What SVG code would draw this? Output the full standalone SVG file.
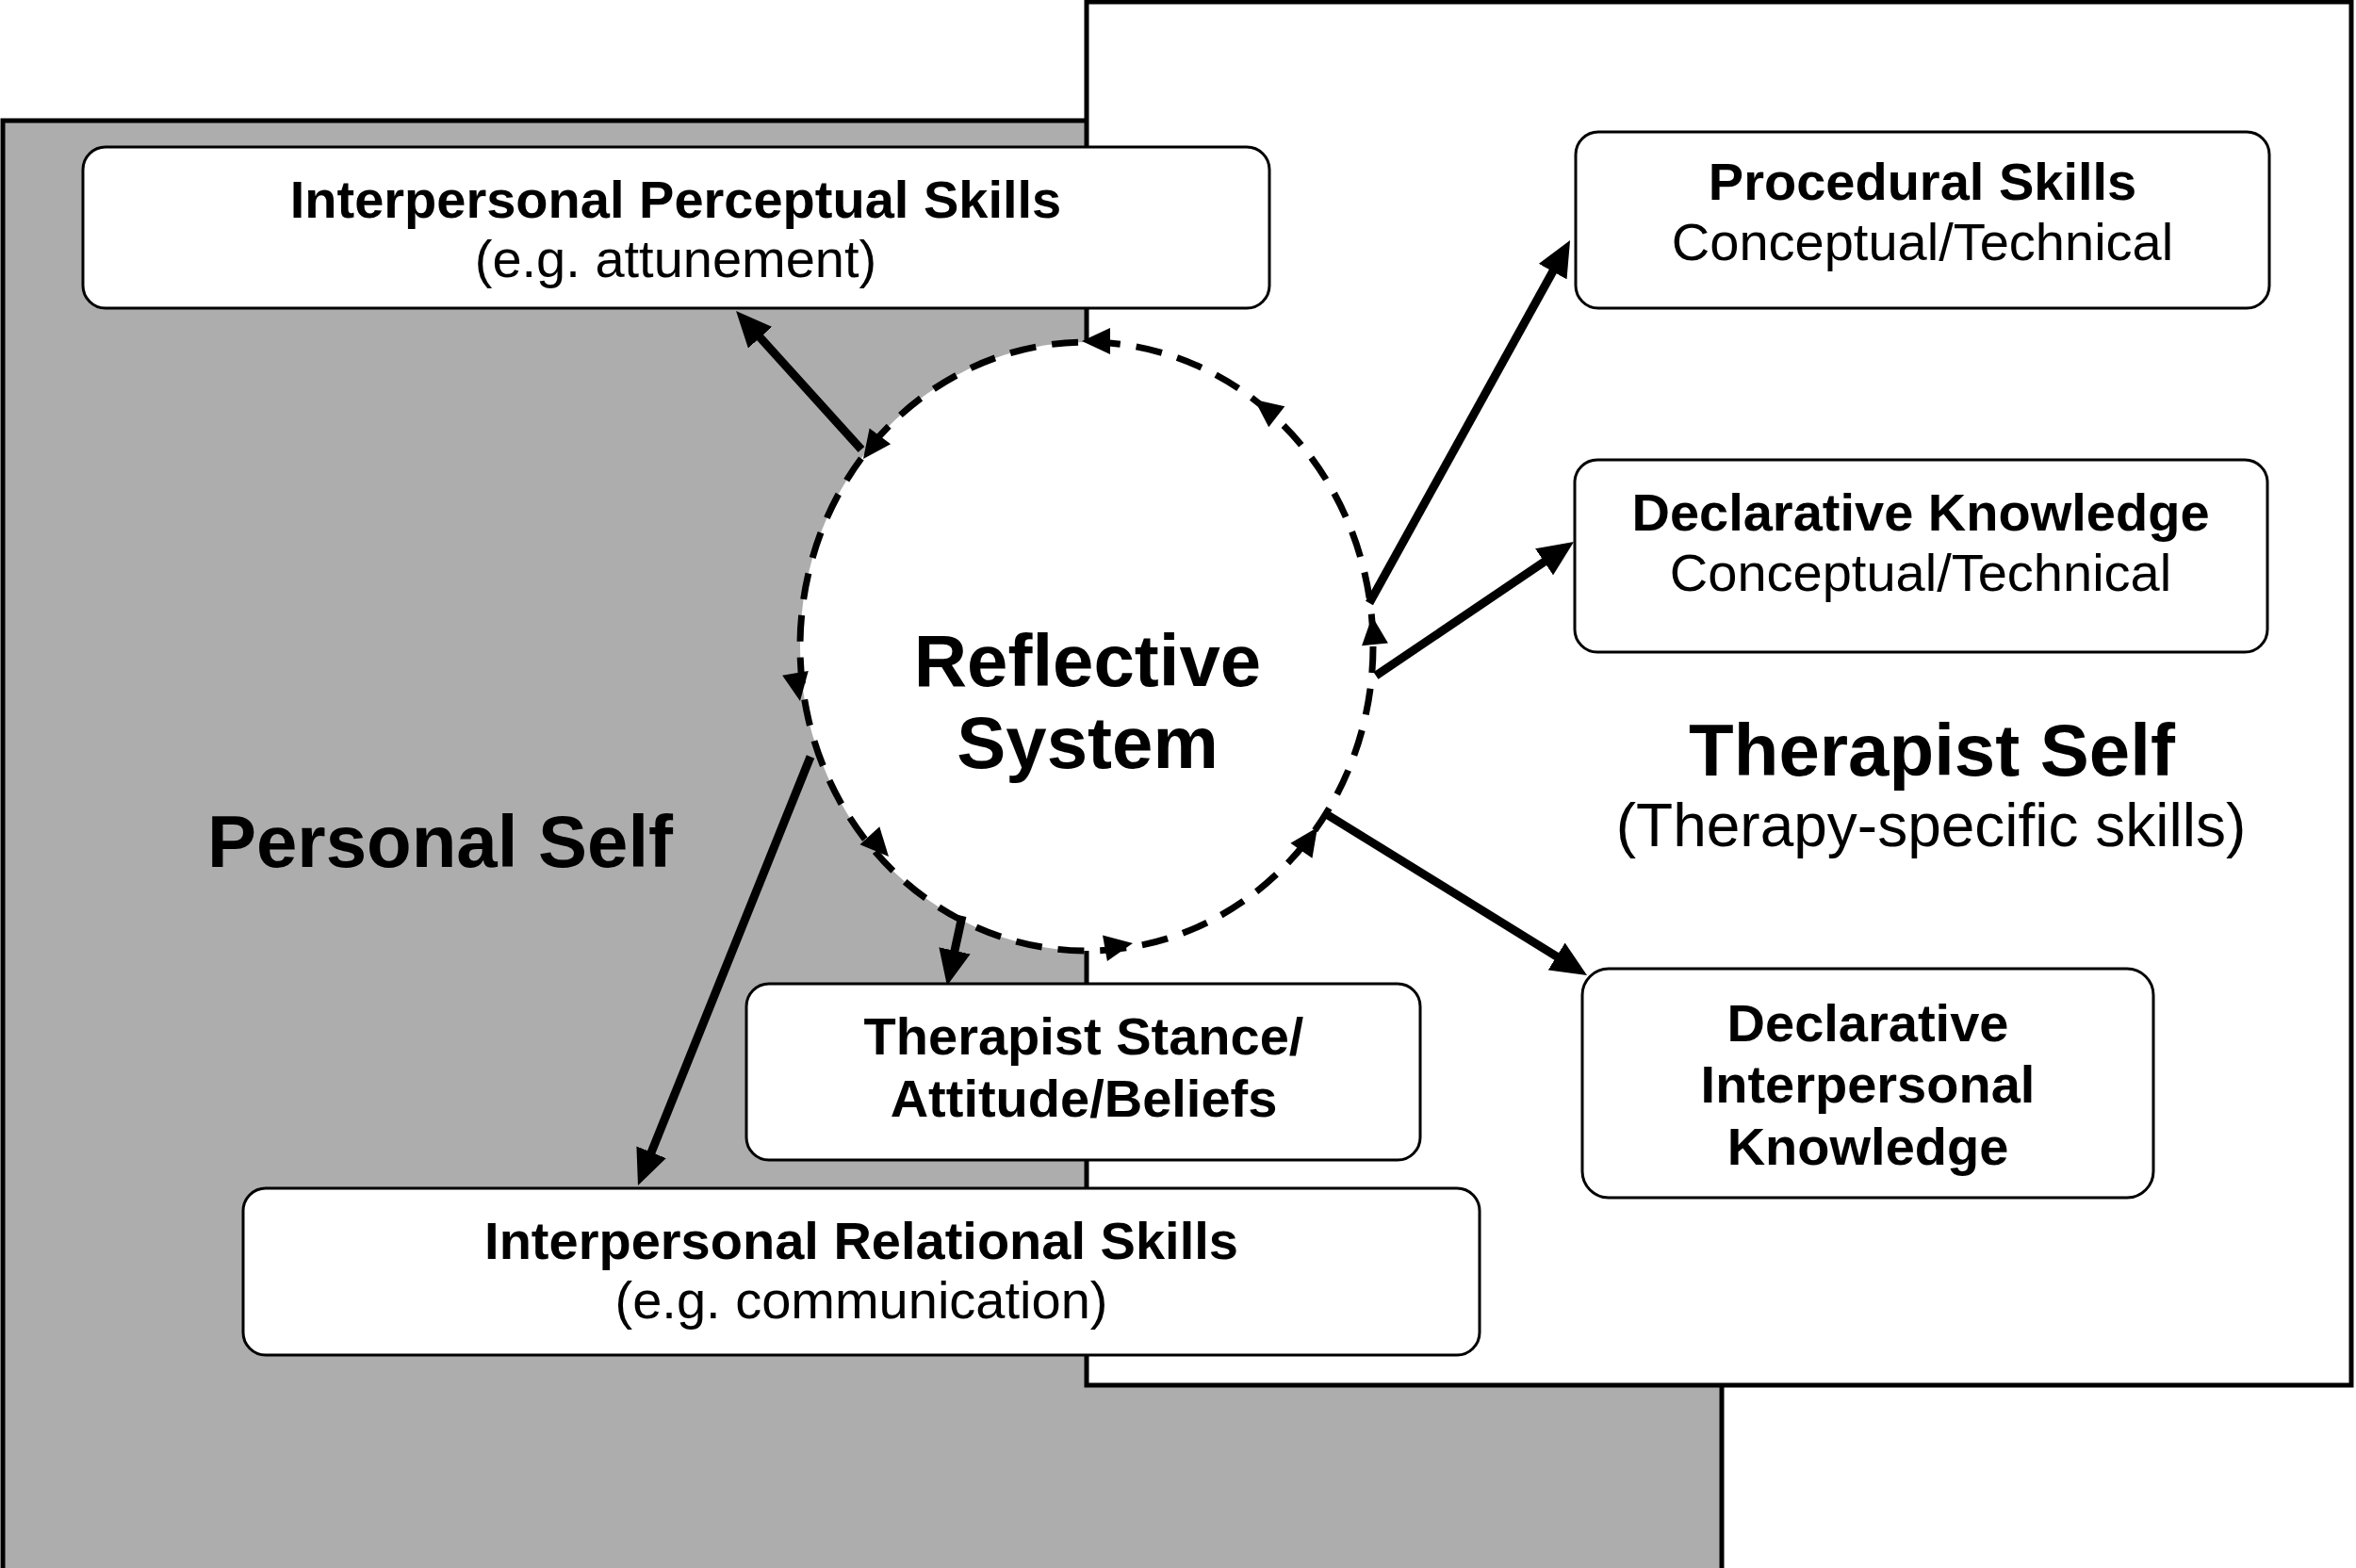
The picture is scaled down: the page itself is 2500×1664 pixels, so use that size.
<svg xmlns="http://www.w3.org/2000/svg" width="2500" height="1664" viewBox="0 0 2500 1664">
<defs>
<style>
.box{fill:#fff;stroke:#000;stroke-width:3}
.t{font-family:"Liberation Sans",Arial,sans-serif;font-size:56px;text-anchor:middle;fill:#000}
.b{font-weight:bold}
.big{font-family:"Liberation Sans",Arial,sans-serif;font-weight:bold;font-size:78px;text-anchor:middle;fill:#000}
.conn{stroke:#000;stroke-width:9;fill:none;marker-end:url(#ah)}
.ch{fill:#000}
</style>
<marker id="ah" markerUnits="userSpaceOnUse" viewBox="0 0 38 34" refX="16" refY="17" markerWidth="38" markerHeight="34" orient="auto"><path d="M0,0 L38,17 L0,34 z"/></marker>
</defs>
<rect width="2500" height="1664" fill="#fff"/>
<g id="personal-self">
<rect x="3" y="128" width="1824" height="1540" fill="#adadad" stroke="#000" stroke-width="5"/>
</g>
<g id="therapist-self">
<rect x="1153" y="2" width="1342" height="1468" fill="#fff" stroke="#000" stroke-width="5"/>
</g>
<g id="reflective-system">
<ellipse cx="1153" cy="686" rx="304" ry="323" fill="#fff" stroke="#000" stroke-width="7" stroke-dasharray="28 17"/>
<polygon class="ch" points="0,0 -30,-14 -30,14" transform="translate(1148,362) rotate(180)"/>
<polygon class="ch" points="0,0 -30,-14 -30,14" transform="translate(1331,424) rotate(-142.5)"/>
<polygon class="ch" points="0,0 -30,-14 -30,14" transform="translate(916,487) rotate(126.6)"/>
<polygon class="ch" points="0,0 -30,-14 -30,14" transform="translate(849,744) rotate(80.3)"/>
<polygon class="ch" points="0,0 -30,-14 -30,14" transform="translate(943,909) rotate(47.9)"/>
<polygon class="ch" points="0,0 -30,-14 -30,14" transform="translate(1202,1001) rotate(-10)"/>
<polygon class="ch" points="0,0 -30,-14 -30,14" transform="translate(1398,878) rotate(-55.3)"/>
<polygon class="ch" points="0,0 -30,-14 -30,14" transform="translate(1456,654) rotate(-95.7)"/>
<text class="big" x="1154" y="728">Reflective</text>
<text class="big" x="1154" y="815">System</text>
</g>
<g id="label-personal"><text class="big" x="467" y="920">Personal Self</text></g>
<g id="label-therapist">
<text class="big" x="2050" y="823">Therapist Self</text>
<text class="t" style="font-size:64px" x="2049" y="898">(Therapy-specific skills)</text>
</g>
<g id="connectors">
<line class="conn" x1="914" y1="477" x2="795.8" y2="346.3"/>
<line class="conn" x1="1453" y1="640" x2="1655.4" y2="274.2"/>
<line class="conn" x1="1460" y1="717" x2="1651.8" y2="587.3"/>
<line class="conn" x1="1409" y1="865" x2="1665.3" y2="1023.4"/>
<line class="conn" x1="860" y1="803" x2="685.2" y2="1237.6"/>
<line class="conn" x1="1021" y1="972" x2="1009.6" y2="1024.5"/>
</g>
<g id="interpersonal-perceptual">
<rect class="box" x="88" y="156" width="1259" height="171" rx="24"/>
<text class="t b" x="717" y="231">Interpersonal Perceptual Skills</text>
<text class="t" x="717" y="294">(e.g. attunement)</text>
</g>
<g id="procedural">
<rect class="box" x="1672" y="140" width="736" height="187" rx="24"/>
<text class="t b" x="2040" y="212">Procedural Skills</text>
<text class="t" x="2040" y="276">Conceptual/Technical</text>
</g>
<g id="declarative-knowledge">
<rect class="box" x="1671" y="488" width="735" height="204" rx="24"/>
<text class="t b" x="2038" y="563">Declarative Knowledge</text>
<text class="t" x="2038" y="627">Conceptual/Technical</text>
</g>
<g id="declarative-interpersonal">
<rect class="box" x="1679" y="1028" width="606" height="243" rx="28"/>
<text class="t b" x="1982" y="1105">Declarative</text>
<text class="t b" x="1982" y="1170">Interpersonal</text>
<text class="t b" x="1982" y="1236">Knowledge</text>
</g>
<g id="therapist-stance">
<rect class="box" x="792" y="1044" width="715" height="187" rx="24"/>
<text class="t b" x="1150" y="1119">Therapist Stance/</text>
<text class="t b" x="1150" y="1185">Attitude/Beliefs</text>
</g>
<g id="interpersonal-relational">
<rect class="box" x="258" y="1261" width="1312" height="177" rx="24"/>
<text class="t b" x="914" y="1336">Interpersonal Relational Skills</text>
<text class="t" x="914" y="1399">(e.g. communication)</text>
</g>
</svg>
